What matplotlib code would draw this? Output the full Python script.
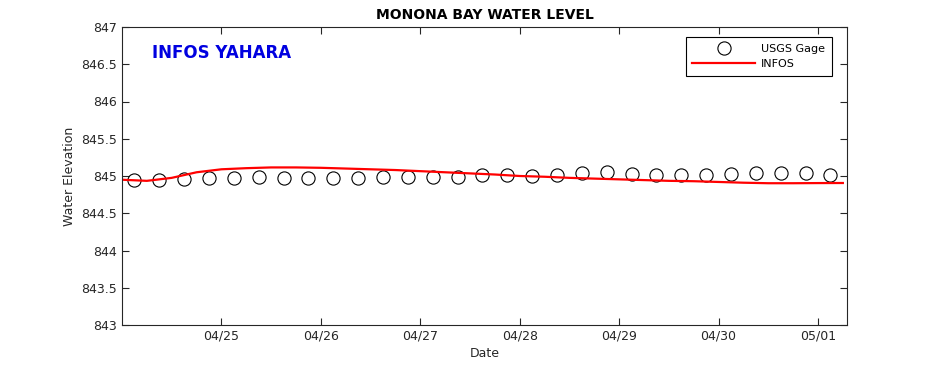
import numpy as np
import pandas as pd
import matplotlib
matplotlib.use("Agg")
import matplotlib.pyplot as plt
import matplotlib.dates as mdates
from matplotlib.ticker import FuncFormatter

plt.rcParams['font.family'] = ['DejaVu Sans']

# USGS gage observations, every 6 h from 04/24 03:00
gage_start = "2023-04-24 03:00"
gage_values = [844.94, 844.94, 844.96, 844.97, 844.97, 844.98, 844.97, 844.97,
               844.97, 844.97, 844.98, 844.98, 844.99, 844.99, 845.01, 845.01,
               845.00, 845.02, 845.04, 845.05, 845.03, 845.01, 845.01, 845.01,
               845.03, 845.04, 845.04, 845.04, 845.01]

# INFOS model, every 6 h from 04/24 00:00
infos_start = "2023-04-24 00:00"
infos_values = [844.95, 844.935, 844.975, 845.05, 845.09, 845.105, 845.115, 845.115,
                845.11, 845.10, 845.09, 845.08, 845.065, 845.05, 845.035, 845.02,
                845.00, 844.99, 844.975, 844.965, 844.955, 844.945, 844.935, 844.93,
                844.92, 844.91, 844.903, 844.903, 844.905, 844.906]

tick_dates = ["2023-04-25", "2023-04-26", "2023-04-27", "2023-04-28",
              "2023-04-29", "2023-04-30", "2023-05-01"]
y_ticks = [843, 843.5, 844, 844.5, 845, 845.5, 846, 846.5, 847]

gage_t = pd.date_range(gage_start, periods=len(gage_values), freq="6h")
infos_t = pd.date_range(infos_start, periods=len(infos_values), freq="6h")

fig = plt.figure(figsize=(9.38, 3.65), dpi=100)
ax = fig.add_axes([122/938, 40/365, 725/938, 298/365])

ax.plot(gage_t, gage_values, linestyle='none', marker='o', markersize=9.5,
        markerfacecolor='none', markeredgecolor='black', markeredgewidth=0.8,
        label='USGS Gage')
ax.plot(infos_t, infos_values, color='red', linewidth=1.6, label='INFOS')

ax.set_xlim(pd.Timestamp("2023-04-24 00:00"), pd.Timestamp("2023-05-01 07:00"))
ax.set_ylim(843, 847)
ax.set_xticks(pd.to_datetime(tick_dates))
ax.xaxis.set_major_formatter(mdates.DateFormatter('%m/%d'))
ax.set_yticks(y_ticks)
ax.yaxis.set_major_formatter(FuncFormatter(lambda v, p: '%g' % v))
ax.tick_params(direction='in', length=5, width=0.8, top=True, right=True,
               labelsize=9, colors='#262626', labelcolor='#262626')
for s in ax.spines.values():
    s.set_linewidth(0.8)
    s.set_color('#262626')

ax.set_title('MONONA BAY WATER LEVEL', fontsize=10, fontweight='bold', pad=6)
ax.set_xlabel('Date', fontsize=9, labelpad=3, color='#262626')
ax.set_ylabel('Water Elevation', fontsize=9, labelpad=4, color='#262626')

fig.text(152/938, 1 - 53/365, 'INFOS YAHARA', fontsize=12, fontweight='bold',
         color='#0000e0', va='center', ha='left')

leg = ax.legend(loc='upper right', bbox_to_anchor=(832/938, 1 - 37/365),
                bbox_transform=fig.transFigure, fontsize=8, handlelength=5.6,
                frameon=True, fancybox=False, framealpha=1, borderpad=0.6,
                labelspacing=0.5, handletextpad=0.6, borderaxespad=0)
leg.get_frame().set_edgecolor('black')
leg.get_frame().set_linewidth(0.8)

fig.savefig('out.png', dpi=100)
